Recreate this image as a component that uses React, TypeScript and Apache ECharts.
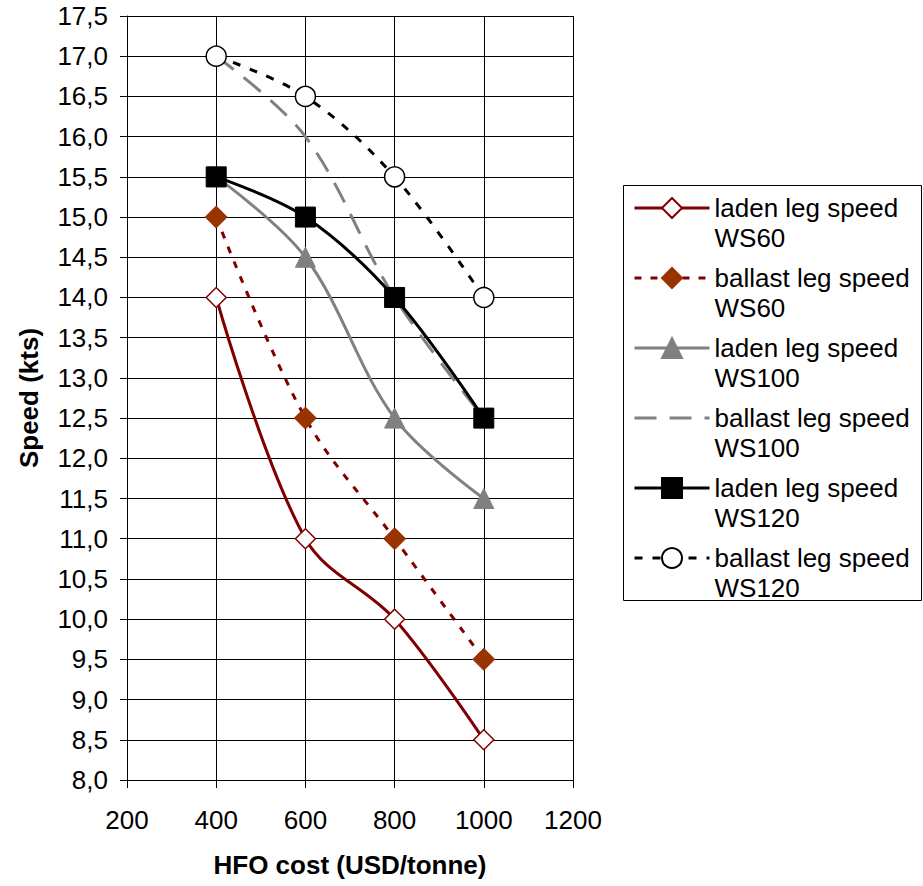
import React, { useEffect, useRef } from "react";
import * as echarts from "echarts";

const xValues = [400, 600, 800, 1000];
const ladenWS60 = [14.0, 11.0, 10.0, 8.5];
const ballastWS60 = [15.0, 12.5, 11.0, 9.5];
const ladenWS100 = [15.5, 14.5, 12.5, 11.5];
const ballastWS100 = [17.0, 16.0, 14.0, 12.5];
const ladenWS120 = [15.5, 15.0, 14.0, 12.5];
const ballastWS120 = [17.0, 16.5, 15.5, 14.0];
const seriesNames = [
  "laden leg speed\nWS60",
  "ballast leg speed\nWS60",
  "laden leg speed\nWS100",
  "ballast leg speed\nWS100",
  "laden leg speed\nWS120",
  "ballast leg speed\nWS120",
];
const xTitle = "HFO cost (USD/tonne)";
const yTitle = "Speed (kts)";

const FONT = "'Liberation Sans', Arial, sans-serif";

const pairs = (ys: number[]) => xValues.map((x, i) => [x, ys[i]]);

export default function App() {
  const ref = useRef<HTMLDivElement>(null);
  useEffect(() => {
    if (!ref.current) return;
    const chart = echarts.init(ref.current, null, { renderer: "svg" });
    const common = { type: "line", smooth: 0.35, symbolSize: 20, z: 3 };
    chart.setOption({
      animation: false,
      backgroundColor: "#fff",
      textStyle: { fontFamily: FONT },
      grid: { left: 127, right: 350, top: 16, bottom: 106, containLabel: false },
      graphic: [
        {
          type: "rect",
          shape: { x: 623.5, y: 185.5, width: 298, height: 415 },
          style: { fill: "none", stroke: "#000", lineWidth: 1 },
        },
      ],
      legend: {
        orient: "vertical",
        left: 633,
        top: 163,
        padding: 0,
        itemGap: -20,
        itemWidth: 75,
        itemHeight: 25,
        formatter: (name: string) => "\n" + name,
        lineStyle: { width: 3 },
        textStyle: {
          fontFamily: FONT,
          fontSize: 26,
          lineHeight: 30,
          color: "#000",
        },
        data: seriesNames.map((n, i) =>
          i === 3 ? { name: n, itemStyle: { opacity: 0 } } : { name: n }
        ),
      },
      xAxis: {
        type: "value",
        min: 200,
        max: 1200,
        interval: 200,
        name: xTitle,
        nameLocation: "middle",
        nameGap: 72,
        nameTextStyle: { fontFamily: FONT, fontSize: 26, fontWeight: "bold", color: "#000" },
        axisLine: { show: true, lineStyle: { color: "#000", width: 1 } },
        axisTick: { show: true, length: 8, lineStyle: { color: "#000" } },
        axisLabel: {
          fontFamily: FONT,
          fontSize: 26,
          color: "#000",
          margin: 27,
          formatter: (v: number) => String(v),
        },
        splitLine: { show: true, lineStyle: { color: "#000", width: 1 } },
      },
      yAxis: {
        type: "value",
        min: 8,
        max: 17.5,
        interval: 0.5,
        name: yTitle,
        nameLocation: "middle",
        nameGap: 85,
        nameTextStyle: { fontFamily: FONT, fontSize: 26, fontWeight: "bold", color: "#000" },
        axisLine: { show: true, lineStyle: { color: "#000", width: 1 } },
        axisTick: { show: true, length: 7, lineStyle: { color: "#000" } },
        axisLabel: {
          fontFamily: FONT,
          fontSize: 26,
          color: "#000",
          margin: 19,
          formatter: (v: number) => v.toFixed(1).replace(".", ","),
        },
        splitLine: { show: true, lineStyle: { color: "#000", width: 1 } },
      },
      series: [
        {
          ...common,
          name: seriesNames[0],
          data: pairs(ladenWS60),
          symbol: "diamond",
          lineStyle: { color: "#800000", width: 3 },
          itemStyle: { color: "#fff", borderColor: "#800000", borderWidth: 1.5 },
        },
        {
          ...common,
          name: seriesNames[1],
          data: pairs(ballastWS60),
          symbol: "diamond",
          symbolSize: 22,
          lineStyle: { color: "#800000", width: 3, type: [7, 9] },
          itemStyle: { color: "#993300", borderColor: "#993300", borderWidth: 1 },
        },
        {
          ...common,
          name: seriesNames[2],
          data: pairs(ladenWS100),
          symbol: "triangle",
          lineStyle: { color: "#808080", width: 3 },
          itemStyle: { color: "#808080", borderColor: "#808080", borderWidth: 1 },
        },
        {
          ...common,
          name: seriesNames[3],
          data: pairs(ballastWS100),
          symbol: "none",
          lineStyle: { color: "#808080", width: 3, type: [22, 13] },
          itemStyle: { color: "#808080" },
        },
        {
          ...common,
          name: seriesNames[4],
          data: pairs(ladenWS120),
          symbol: "rect",
          lineStyle: { color: "#000", width: 3 },
          itemStyle: { color: "#000", borderColor: "#000", borderWidth: 1 },
        },
        {
          ...common,
          name: seriesNames[5],
          data: pairs(ballastWS120),
          symbol: "circle",
          lineStyle: { color: "#000", width: 3, type: [8, 10] },
          itemStyle: { color: "#fff", borderColor: "#000", borderWidth: 1.5 },
        },
      ],
    });
    return () => chart.dispose();
  }, []);
  return (
    <div
      ref={ref}
      style={{ position: "absolute", left: 0, top: 0, width: 923, height: 886 }}
    />
  );
}
